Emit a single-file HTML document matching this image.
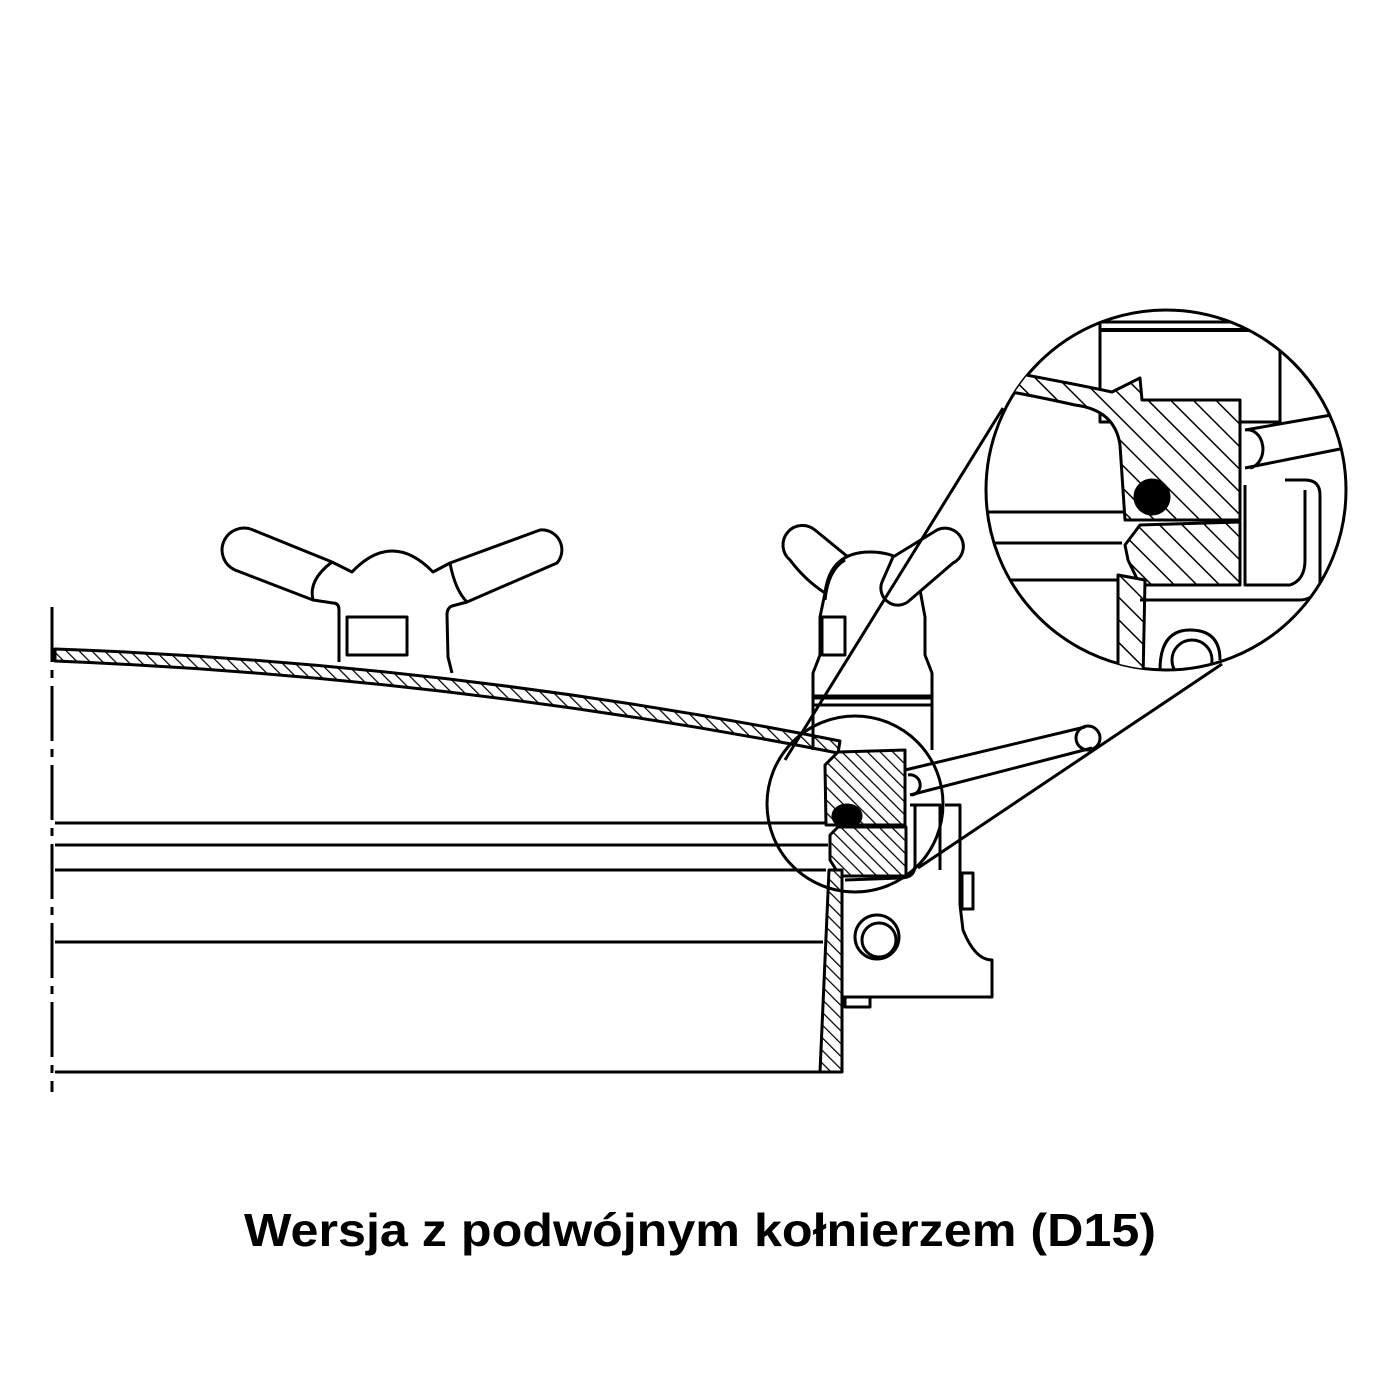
<!DOCTYPE html>
<html><head><meta charset="utf-8"><style>html,body{margin:0;padding:0;background:#fff}svg{display:block}</style></head>
<body>
<svg width="1400" height="1400" viewBox="0 0 1400 1400" xmlns="http://www.w3.org/2000/svg">
<defs>
<pattern id="h" width="9" height="9" patternUnits="userSpaceOnUse" patternTransform="rotate(-45)">
<rect width="9" height="9" fill="#fff"/><line x1="0" y1="0" x2="0" y2="9" stroke="#000" stroke-width="2.5"/></pattern>
<pattern id="h2" width="16" height="16" patternUnits="userSpaceOnUse" patternTransform="rotate(-45)">
<rect width="16" height="16" fill="#fff"/><line x1="0" y1="0" x2="0" y2="16" stroke="#000" stroke-width="3"/></pattern>
<clipPath id="cc"><circle cx="1166" cy="490" r="180"/></clipPath>
</defs>
<g fill="none" stroke="#000" stroke-width="3" stroke-linejoin="round">
<line x1="52" y1="607" x2="52" y2="1092" stroke-dasharray="55,8,8,8"/>
<line x1="55" y1="823" x2="828" y2="823"/>
<line x1="55" y1="845" x2="828" y2="845"/>
<line x1="55" y1="870" x2="826" y2="870"/>
<line x1="55" y1="942" x2="823" y2="942"/>
<line x1="55" y1="1072" x2="842" y2="1072"/>
<!-- lid -->
<path d="M55 649 Q450 663 840 741 L838 753 Q450 677 55 661 Z" fill="url(#h)"/>
<!-- left wing nut -->
<path d="M339 662 L339 610 Q339 603 333 603 L313 600 L235 570 A20 20 0 0 1 253 530 L332 562 L352 572 Q392 530 433 572 L450 563 L540 530 A20 20 0 0 1 557 563 L467 602 L452 606 Q447 608 447 615 L448 657 L452 673"/>
<path d="M332 562 Q308 580 313 600"/>
<path d="M450 563 Q455 590 467 602"/>
<rect x="347" y="617" width="60" height="38"/>
<!-- right wing nut / clamp body -->
<path d="M813 750 L813 673 L820 655 L820 617 L825 593 Q830 552 870 552 Q912 552 920 590 L925 617 L925 655 L932 673 L932 750"/>
<path d="M825 593 Q805 580 790 560 A17 17 0 0 1 815 530 L848 557"/>
<path d="M825 600 Q828 570 845 560"/>
<path d="M893 557 L937 530 A17 17 0 0 1 953 563 L910 600 A17 17 0 0 1 882 582 Z" fill="#fff"/>
<path d="M822 655 L822 617 L845 617 L845 655 Z"/>
<line x1="813" y1="697" x2="932" y2="697" stroke-width="5"/>
<line x1="813" y1="705" x2="932" y2="705"/>
<line x1="785" y1="760" x2="1003" y2="408"/>
<!-- flange -->
<path d="M838 752 L905 750 L905 825 L826 825 L825 765 Z" fill="url(#h)"/>
<path d="M830 835 L838 827 L906 827 L906 876 L840 876 L830 860 Z" fill="url(#h)"/>
<ellipse cx="847" cy="816" rx="14" ry="11" fill="#000"/>
<path d="M829 870 L842 870 L842 1072 L820 1072 Z" fill="url(#h)"/>
<circle cx="855" cy="804" r="88"/>
<!-- lever -->
<path d="M905 770 L1085 727"/><path d="M910 795 L1092 748"/>
<circle cx="1088" cy="738" r="12"/>
<path d="M908 775 A10 10 0 0 1 912 795"/>
<!-- right bracket -->
<path d="M910 805 L940 805 L940 870 M945 805 L960 805 L960 905 L963 930 Q975 960 992 960 L992 997 L842 997"/>
<rect x="962" y="873" width="11" height="36"/>
<path d="M915 805 L915 865 Q915 878 900 878 L845 880"/>
<path d="M845 997 L845 1007 L870 1007 L870 997"/>
<circle cx="877" cy="937" r="22"/><circle cx="879" cy="940" r="17"/>
<line x1="918" y1="868" x2="1222" y2="664"/>
<!-- detail circle -->
<circle cx="1166" cy="490" r="180"/>
<g clip-path="url(#cc)">
<rect x="1100" y="322" width="180" height="100"/>
<line x1="1100" y1="330" x2="1280" y2="330" stroke-width="4"/>
<line x1="980" y1="512" x2="1125" y2="512"/>
<line x1="980" y1="543" x2="1122" y2="543"/>
<line x1="980" y1="580" x2="1122" y2="580"/>
<path d="M1010 372 Q1080 385 1112 392 L1140 378 L1142 400 L1240 400 L1240 520 L1125 520 L1120 445 Q1115 410 1075 405 Q1030 395 1000 390 Z" fill="url(#h2)"/>
<path d="M1125 545 L1140 525 L1240 522 L1240 585 L1140 585 L1128 560 Z" fill="url(#h2)"/>
<path d="M1118 575 L1145 580 L1143 680 L1118 680 Z" fill="url(#h2)"/>
<circle cx="1152" cy="497" r="17" fill="#000"/>
<path d="M1245 430 L1360 410 M1245 468 L1360 445 M1245 430 A12 15 0 0 1 1250 468"/>
<path d="M1245 485 L1245 585 L1290 585 Q1305 580 1305 560 L1305 490 M1285 480 L1305 480 Q1320 480 1320 495 L1320 590 Q1310 600 1300 600 L1140 600"/>
<path d="M1160 670 Q1160 630 1190 630 Q1220 630 1220 660"/>
<circle cx="1192" cy="660" r="20"/>
</g>
</g>
<text x="700" y="1246" text-anchor="middle" font-family="Liberation Sans, Arial, sans-serif" font-weight="bold" font-size="46" textLength="912" lengthAdjust="spacingAndGlyphs">Wersja z podwójnym kołnierzem (D15)</text>
</svg>
</body></html>
